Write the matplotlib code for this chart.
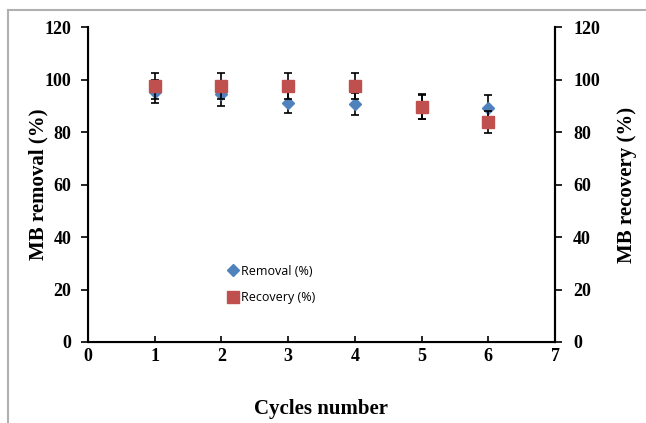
import matplotlib
matplotlib.use("Agg")
import matplotlib.pyplot as plt
from matplotlib.lines import Line2D

# cycle data
cycles = [1, 2, 3, 4, 5, 6]
removal = [95.3, 94.3, 91.2, 90.5, 89.6, 89.2]
removal_err = [4.4, 4.3, 4.1, 4.2, 4.5, 5.0]
recovery = [97.5, 97.5, 97.5, 97.5, 89.6, 83.8]
recovery_err = [4.9, 4.9, 4.9, 4.9, 4.7, 4.3]

serif = "Liberation Serif"
blue = "#4f81bd"
red = "#c0504d"

fig = plt.figure(figsize=(6.46, 4.23), dpi=100)
ax = fig.add_axes([88 / 646, 1 - 342 / 423, (555 - 88) / 646, (342 - 27) / 423])

# light grey frame round the picture
fig.add_artist(Line2D([8 / 646, 8 / 646], [0, 1 - 10 / 423], color="#b0b0b0", lw=1.5))
fig.add_artist(Line2D([8 / 646, 1], [1 - 10 / 423, 1 - 10 / 423], color="#b0b0b0", lw=1.5))

ax.errorbar(cycles, removal, yerr=removal_err, fmt="D", color=blue, ms=6,
            ecolor="black", elinewidth=1.2, capsize=3, capthick=1.2, zorder=3)
ax.errorbar(cycles, recovery, yerr=recovery_err, fmt="s", color=red, ms=8,
            ecolor="black", elinewidth=1.2, capsize=3, capthick=1.2, zorder=4)

ax.set_xlim(0, 7)
ax.set_ylim(0, 120)
ax.set_xticks(range(0, 8))
ax.set_yticks(range(0, 121, 20))
ax.spines["top"].set_visible(False)
for s in ["left", "right", "bottom"]:
    ax.spines[s].set_linewidth(1.5)

ax.tick_params(axis="y", direction="out", length=5, width=1.2, labelsize=13, pad=7)
ax.tick_params(axis="x", direction="in", length=4, width=1.2, labelsize=13, pad=4)
for lab in ax.get_xticklabels() + ax.get_yticklabels():
    lab.set_fontfamily(serif)
    lab.set_fontweight("bold")

ax2 = ax.twinx()
ax2.set_ylim(0, 120)
ax2.set_yticks(range(0, 121, 20))
ax2.spines["top"].set_visible(False)
ax2.spines["right"].set_linewidth(1.5)
ax2.tick_params(axis="y", direction="out", length=5, width=1.2, labelsize=13, pad=8)
for lab in ax2.get_yticklabels():
    lab.set_fontfamily(serif)
    lab.set_fontweight("bold")

ax.set_xlabel("Cycles number", fontfamily=serif, fontweight="bold", fontsize=15, labelpad=25)
ax.set_ylabel("MB removal (%)", fontfamily=serif, fontweight="bold", fontsize=15, labelpad=-3)
ax2.set_ylabel("MB recovery (%)", fontfamily=serif, fontweight="bold", fontsize=15, labelpad=12)

handles = [
    Line2D([], [], marker="D", ls="none", color=blue, ms=6),
    Line2D([], [], marker="s", ls="none", color=red, ms=8),
]
ax.legend(handles, ["Removal (%)", "Recovery (%)"], loc="center left",
          bbox_to_anchor=(0.287, 0.183), frameon=False, borderpad=0,
          prop={"family": "Open Sans", "size": 9}, handlelength=0.8,
          handletextpad=0.2, labelspacing=1.05)

fig.savefig("out.png", dpi=100)
